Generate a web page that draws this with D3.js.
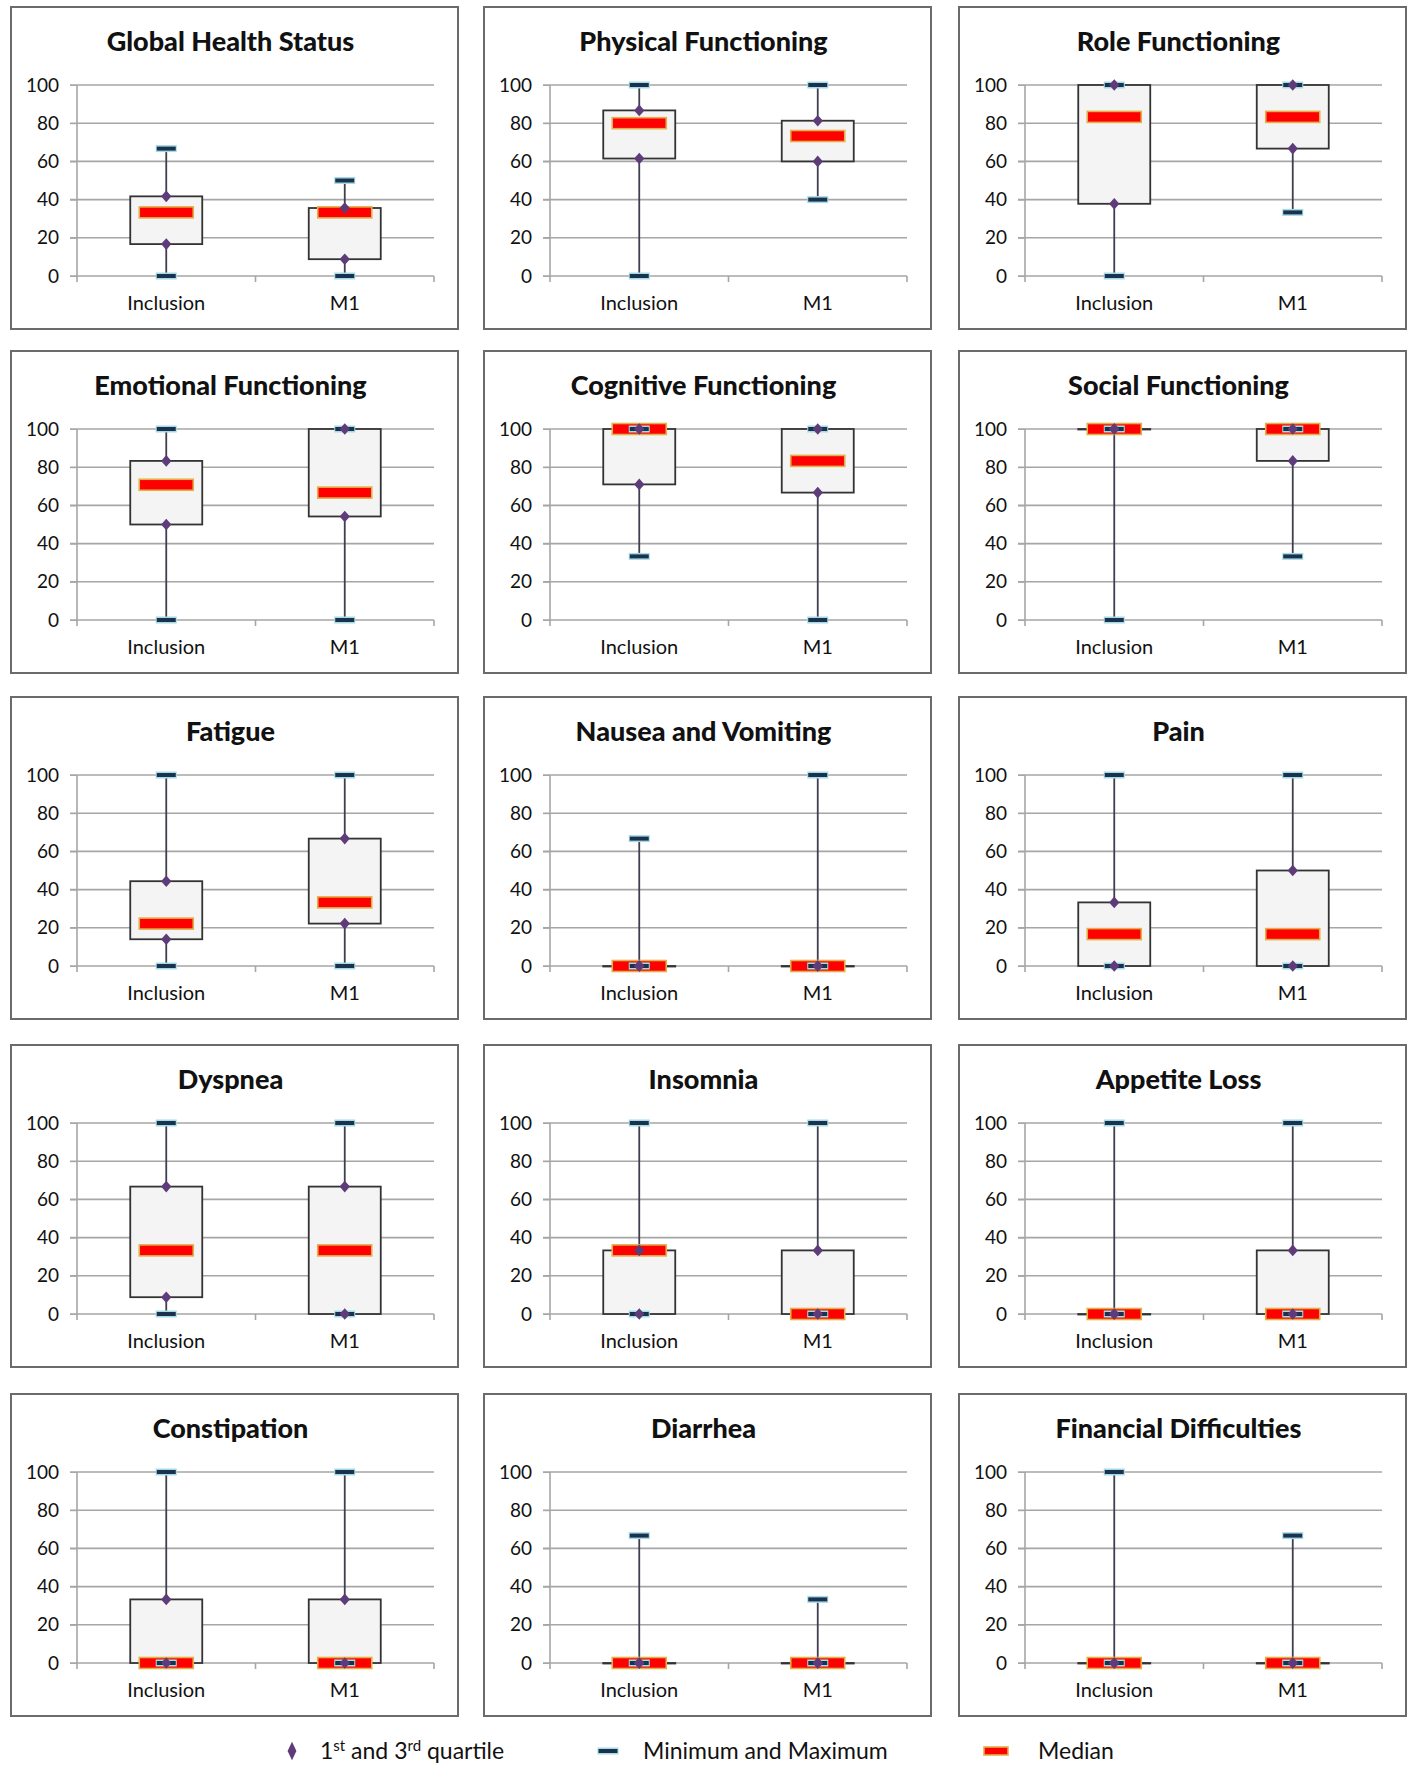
<!DOCTYPE html>
<html>
<head>
<meta charset="utf-8">
<script src="https://cdn.jsdelivr.net/npm/d3@7"></script>
<style>
  body { margin: 0; background: #fff; }
  text { font-family: Lato, "Open Sans", sans-serif; }
</style>
</head>
<body>
<div id="chart"></div>
<script>

// one entry per panel, each a pair [Inclusion, M1]
const titles = ["Global Health Status", "Physical Functioning", "Role Functioning",
  "Emotional Functioning", "Cognitive Functioning", "Social Functioning",
  "Fatigue", "Nausea and Vomiting", "Pain",
  "Dyspnea", "Insomnia", "Appetite Loss",
  "Constipation", "Diarrhea", "Financial Difficulties"]
const categories = ["Inclusion", "M1"]
const mins = [[0, 0], [0, 40], [0, 33.3], [0, 0], [33.3, 0], [0, 33.3], [0, 0], [0, 0], [0, 0],
  [0, 0], [0, 0], [0, 0], [0, 0], [0, 0], [0, 0]]
const q1s = [[16.7, 8.8], [61.5, 60], [37.8, 66.7], [50, 54.2], [71, 66.7], [100, 83.3], [14, 22.2], [0, 0], [0, 0],
  [8.8, 0], [0, 0], [0, 0], [0, 0], [0, 0], [0, 0]]
const medians = [[33.3, 33.3], [80, 73.3], [83.3, 83.3], [70.8, 66.7], [100, 83.3], [100, 100], [22.2, 33.3], [0, 0], [16.7, 16.7],
  [33.3, 33.3], [33.3, 0], [0, 0], [0, 0], [0, 0], [0, 0]]
const q3s = [[41.7, 35.6], [86.7, 81.3], [100, 100], [83.3, 100], [100, 100], [100, 100], [44.4, 66.7], [0, 0], [33.3, 50],
  [66.7, 66.7], [33.3, 33.3], [0, 33.3], [33.3, 33.3], [0, 0], [0, 0]]
const maxs = [[66.7, 50], [100, 100], [100, 100], [100, 100], [100, 100], [100, 100], [100, 100], [66.7, 100], [100, 100],
  [100, 100], [100, 100], [100, 100], [100, 100], [66.7, 33.3], [100, 66.7]]
const yTicks = [0, 20, 40, 60, 80, 100]
const legendLabels = [["1", "st", " and 3", "rd", " quartile"], ["Minimum and Maximum"], ["Median"]]

const W = 1418, H = 1767
const colX = [11, 484, 959]
const rowY = [7, 351, 697, 1045, 1394]
const pw = 447, ph = 322
const plotL = 66, plotR = 423, plotT = 78, plotB = 269

const svg = d3.select("#chart").append("svg")
  .attr("width", W).attr("height", H)

const y = d3.scaleLinear().domain([0, 100]).range([plotB, plotT])
const x = d3.scaleBand().domain(categories).range([plotL, plotR])
const boxW = 72, medW = 54, medH = 11, capW = 21

function drawCap(sel, cx, cy) {
  sel.append("rect")
    .attr("x", cx - capW / 2).attr("y", cy - 3.5)
    .attr("width", capW).attr("height", 7)
    .attr("fill", "#a4dce4")
  sel.append("rect")
    .attr("x", cx - capW / 2 + 1).attr("y", cy - 2)
    .attr("width", capW - 2).attr("height", 4)
    .attr("fill", "#1c3050")
}
function drawMedian(sel, cx, cy, w, h) {
  sel.append("rect")
    .attr("x", cx - w / 2).attr("y", cy - h / 2)
    .attr("width", w).attr("height", h)
    .attr("fill", "#ff0000").attr("stroke", "#e2b04a").attr("stroke-width", 1.6)
}

titles.forEach((title, i) => {
  const g = svg.append("g")
    .attr("transform", `translate(${colX[i % 3]},${rowY[Math.floor(i / 3)]})`)

  g.append("rect")
    .attr("x", 0).attr("y", 0).attr("width", pw).attr("height", ph)
    .attr("fill", "#fff").attr("stroke", "#6b6b6b").attr("stroke-width", 2)

  g.append("text")
    .attr("x", pw / 2 - 4).attr("y", 44)
    .attr("text-anchor", "middle")
    .style("font-size", "27px").style("font-weight", "900")
    .attr("fill", "#111")
    .text(title)

  // gridlines
  g.append("g").selectAll("line")
    .data(yTicks)
    .join("line")
    .attr("x1", plotL - 7).attr("x2", plotR)
    .attr("y1", d => y(d)).attr("y2", d => y(d))
    .attr("stroke", "#a6a6a6").attr("stroke-width", 1.6)

  // y axis
  const ax = g.append("g")
    .attr("transform", `translate(${plotL},0)`)
    .call(d3.axisLeft(y).tickValues(yTicks).tickSize(7).tickPadding(11))
  ax.select(".domain").attr("stroke", "#a6a6a6").attr("stroke-width", 1.6)
    .attr("d", `M0,${plotT}V${plotB + 6}`)
  ax.selectAll(".tick line").attr("stroke", "#a6a6a6")
  ax.selectAll(".tick text")
    .style("font-size", "19px").style("font-family", "Lato, sans-serif")
    .attr("fill", "#111")

  // x axis ticks at category boundaries
  g.append("g").selectAll("line")
    .data([plotL + x.bandwidth(), plotR])
    .join("line")
    .attr("x1", d => d).attr("x2", d => d)
    .attr("y1", plotB).attr("y2", plotB + 6)
    .attr("stroke", "#a6a6a6").attr("stroke-width", 1.6)

  g.append("g").selectAll("text")
    .data(categories)
    .join("text")
    .attr("x", d => x(d) + x.bandwidth() / 2)
    .attr("y", 303)
    .attr("text-anchor", "middle")
    .style("font-size", "20px")
    .attr("fill", "#111")
    .text(d => d)

  const rows = categories.map((c, j) => ({
    cat: c, min: mins[i][j], q1: q1s[i][j], med: medians[i][j], q3: q3s[i][j], max: maxs[i][j]
  }))
  const cx = d => x(d.cat) + x.bandwidth() / 2

  const b = g.append("g")

  b.selectAll(".whisker")
    .data(rows)
    .join("line")
    .attr("x1", cx).attr("x2", cx)
    .attr("y1", d => y(d.min)).attr("y2", d => y(d.max))
    .attr("stroke", "#3f3f4f").attr("stroke-width", 1.8)

  b.selectAll(".box")
    .data(rows)
    .join("rect")
    .attr("x", d => cx(d) - boxW / 2)
    .attr("y", d => y(d.q3))
    .attr("width", boxW)
    .attr("height", d => Math.max(0.5, y(d.q1) - y(d.q3)))
    .attr("fill", "#f4f4f4").attr("stroke", "#333").attr("stroke-width", 1.8)

  rows.forEach(d => drawMedian(b, cx(d), y(d.med), medW, medH))
  rows.forEach(d => { drawCap(b, cx(d), y(d.min)); drawCap(b, cx(d), y(d.max)) })

  b.selectAll(".quart")
    .data(rows.flatMap(d => [{ c: d, v: d.q1 }, { c: d, v: d.q3 }]))
    .join("path")
    .attr("d", d3.symbol(d3.symbolDiamond2, 68))
    .attr("transform", d => `translate(${cx(d.c)},${y(d.v)}) scale(1,1.12)`)
    .attr("fill", "#5e3c7a")
})

// legend
const leg = svg.append("g").attr("transform", "translate(0,1751)")
leg.append("path")
  .attr("d", d3.symbol(d3.symbolDiamond, 75))
  .attr("transform", "translate(292,0) scale(0.95,1.15)")
  .attr("fill", "#5e3c7a")
drawCap(leg, 608, 0)
drawMedian(leg, 996, 0, 24, 8)

const legX = [320, 643, 1038]
legendLabels.forEach((parts, k) => {
  const t = leg.append("text")
    .attr("x", legX[k]).attr("y", 8)
    .style("font-size", "23px")
    .attr("fill", "#111")
  parts.forEach((p, m) => {
    const sup = parts.length > 1 && (m === 1 || m === 3)
    const ts = t.append("tspan").text(p)
    if (sup) ts.attr("dy", -8).style("font-size", "15px")
    else if (m > 0) ts.attr("dy", 8)
  })
})
</script>
</body>
</html>
